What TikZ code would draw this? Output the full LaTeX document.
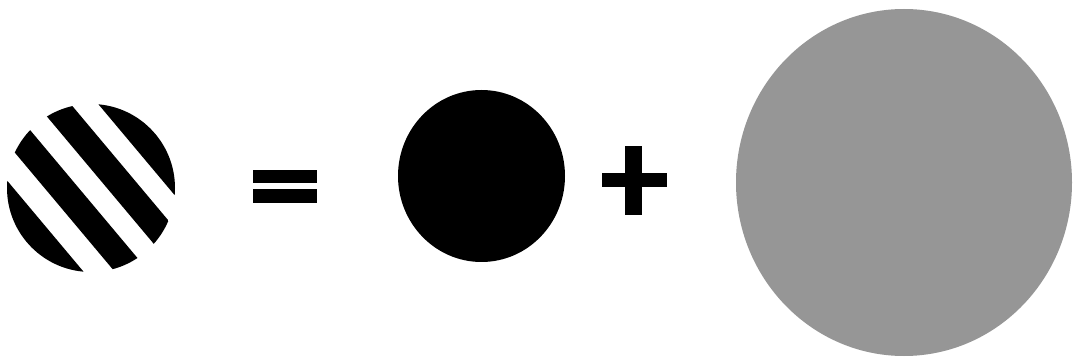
\documentclass[tikz,border=0pt]{standalone}
\usetikzlibrary{shapes.geometric}
\definecolor{discgray}{RGB}{150,150,150}
\begin{document}
\begin{tikzpicture}[x=1pt,y=-1pt, inner sep=0pt, outer sep=0pt,
  ink/.style={fill=black},
  disc/.style={ellipse, draw=none}]
\useasboundingbox[fill=white] (0,0) rectangle (1074,358);
% striped disc
\node[circle, minimum size=168pt] (striped) at (91,188) {};
\begin{scope}
  \clip (striped.center) circle[radius=84];
  \begin{scope}[shift={(striped.center)}, rotate=40]
    \fill[ink] (-95,-100) rectangle (-59.5,100);
    \fill[ink] (-35.6,-100) rectangle (-9.4,100);
    \fill[ink] (12.2,-100) rectangle (38.4,100);
    \fill[ink] (59.5,-100) rectangle (95,100);
  \end{scope}
\end{scope}
% equals sign
\fill[ink] (253,170) rectangle (317,183);
\fill[ink] (253,189) rectangle (317,203);
% black disc
\node[disc, fill=black, minimum width=167pt, minimum height=172pt] (blackdisc) at (481.5,176) {};
% plus sign
\fill[ink] (625,146) rectangle (642,215);
\fill[ink] (602,173) rectangle (667,187);
% grey disc
\node[disc, fill=discgray, minimum width=336pt, minimum height=347pt] (greydisc) at (904,182.5) {};
\end{tikzpicture}
\end{document}
